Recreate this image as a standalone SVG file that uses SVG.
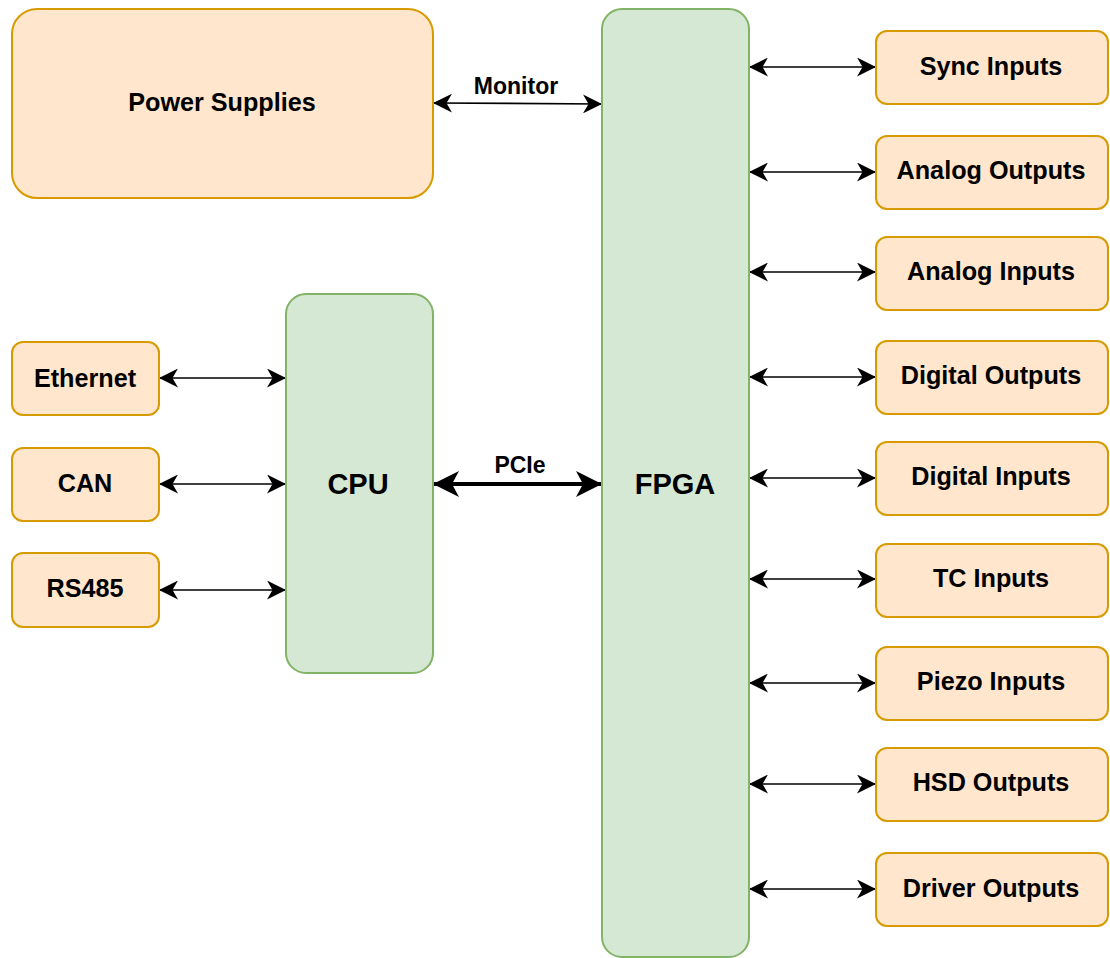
<svg xmlns="http://www.w3.org/2000/svg" width="1110" height="958" viewBox="0 0 1110 958">
<style>
.o{fill:#ffe6cc;stroke:#d79b00;stroke-width:2}
.g{fill:#d5e8d4;stroke:#82b366;stroke-width:2}
text{font-family:"Liberation Sans",Arial,sans-serif;font-weight:bold;fill:#000;text-anchor:middle}
.t{font-size:25.2px}
.b{font-size:29px}
.l{font-size:23px}
.c{stroke:#000;stroke-width:1.7;fill:none;marker-start:url(#a);marker-end:url(#a)}
.p{stroke:#000;stroke-width:4;fill:none;marker-start:url(#A);marker-end:url(#A)}
</style>
<defs>
<marker id="a" viewBox="0 0 19 19" refX="18" refY="9.5" markerWidth="19" markerHeight="19" markerUnits="userSpaceOnUse" orient="auto-start-reverse"><path d="M19,9.5 L0,0 L5.5,9.5 L0,19 Z" fill="#000"/></marker>
<marker id="A" viewBox="0 0 26 26" refX="25" refY="13" markerWidth="26" markerHeight="26" markerUnits="userSpaceOnUse" orient="auto-start-reverse"><path d="M26,13 L0,0 L7,13 L0,26 Z" fill="#000"/></marker>
</defs>
<rect width="1110" height="958" fill="#fff"/>
<g id="connectors">
<line class="c" x1="434" y1="103" x2="601" y2="104"/>
<text class="l" x="516" y="94">Monitor</text>
<line class="p" x1="434" y1="484" x2="601" y2="484"/>
<text class="l" x="520" y="473">PCIe</text>
<line class="c" x1="160" y1="378" x2="285" y2="378"/>
<line class="c" x1="160" y1="484" x2="285" y2="484"/>
<line class="c" x1="160" y1="590" x2="285" y2="590"/>
<line class="c" x1="750" y1="67" x2="875" y2="67"/>
<line class="c" x1="750" y1="172" x2="875" y2="172"/>
<line class="c" x1="750" y1="272" x2="875" y2="272"/>
<line class="c" x1="750" y1="377" x2="875" y2="377"/>
<line class="c" x1="750" y1="478" x2="875" y2="478"/>
<line class="c" x1="750" y1="579" x2="875" y2="579"/>
<line class="c" x1="750" y1="683" x2="875" y2="683"/>
<line class="c" x1="750" y1="784" x2="875" y2="784"/>
<line class="c" x1="750" y1="889" x2="875" y2="889"/>
</g>
<g id="power"><rect class="o" x="12" y="9" width="421" height="189" rx="25"/><text class="t" x="222" y="111">Power Supplies</text></g>
<g id="fpga"><rect class="g" x="602" y="9" width="147" height="948" rx="20"/><text class="b" x="675" y="494">FPGA</text></g>
<g id="cpu"><rect class="g" x="286" y="294" width="147" height="379" rx="20"/><text class="b" x="358" y="494">CPU</text></g>
<g id="ethernet"><rect class="o" x="12" y="342" width="147" height="73" rx="11"/><text class="t" x="85" y="387">Ethernet</text></g>
<g id="can"><rect class="o" x="12" y="448" width="147" height="73" rx="11"/><text class="t" x="85" y="492">CAN</text></g>
<g id="rs485"><rect class="o" x="12" y="553" width="147" height="74" rx="11"/><text class="t" x="85" y="597">RS485</text></g>
<g id="sync"><rect class="o" x="876" y="31" width="232" height="73" rx="11"/><text class="t" x="991" y="75">Sync Inputs</text></g>
<g id="aout"><rect class="o" x="876" y="136" width="232" height="73" rx="11"/><text class="t" x="991" y="179">Analog Outputs</text></g>
<g id="ain"><rect class="o" x="876" y="237" width="232" height="73" rx="11"/><text class="t" x="991" y="280">Analog Inputs</text></g>
<g id="dout"><rect class="o" x="876" y="341" width="232" height="73" rx="11"/><text class="t" x="991" y="384">Digital Outputs</text></g>
<g id="din"><rect class="o" x="876" y="442" width="232" height="73" rx="11"/><text class="t" x="991" y="485">Digital Inputs</text></g>
<g id="tc"><rect class="o" x="876" y="544" width="232" height="73" rx="11"/><text class="t" x="991" y="587">TC Inputs</text></g>
<g id="piezo"><rect class="o" x="876" y="647" width="232" height="73" rx="11"/><text class="t" x="991" y="690">Piezo Inputs</text></g>
<g id="hsd"><rect class="o" x="876" y="748" width="232" height="73" rx="11"/><text class="t" x="991" y="791">HSD Outputs</text></g>
<g id="driver"><rect class="o" x="876" y="853" width="232" height="73" rx="11"/><text class="t" x="991" y="897">Driver Outputs</text></g>
</svg>
